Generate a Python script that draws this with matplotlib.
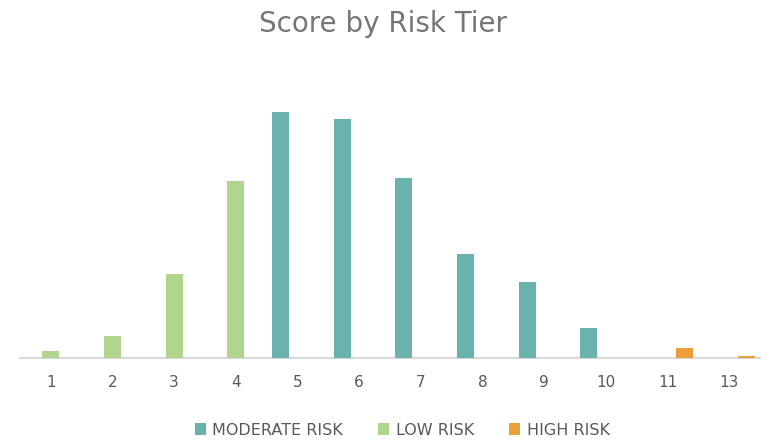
import numpy as np
import matplotlib
matplotlib.use('Agg')
import matplotlib.pyplot as plt

#-- chart data
categories = ['1', '2', '3', '4', '5', '6', '7', '8', '9', '10', '11', '13']
moderate = [0, 0, 0, 0, 246, 239, 180, 104, 76, 30, 0, 0]
low = [7, 22, 84, 177, 0, 0, 0, 0, 0, 0, 0, 0]
high = [0, 0, 0, 0, 0, 0, 0, 0, 0, 0, 10, 2]
series_names = ['MODERATE RISK', 'LOW RISK', 'HIGH RISK']

colors = ['#6AB2AE', '#B0D68E', '#E99F3A']
text_gray = '#595959'

plt.rcParams['font.family'] = ['DejaVu Sans']

fig = plt.figure(figsize=(7.66, 4.40), dpi=100)
ax = fig.add_axes([20/766, 82/440, 740/766, 300/440])

x = np.arange(len(categories))
w = 0.2755
for k, (vals, name) in enumerate(zip([moderate, low, high], series_names)):
    ax.bar(x + (k - 1) * w, vals, width=w, color=colors[k], label=name, zorder=3)

ax.set_xlim(-0.5, len(categories) - 0.5)
ax.set_ylim(0, 300)
ax.set_xticks(x)
ax.set_xticklabels(categories, fontsize=11, color=text_gray)
ax.tick_params(axis='x', length=0, pad=12)
ax.set_yticks([])
for s in ['top', 'right', 'left']:
    ax.spines[s].set_visible(False)
ax.spines['bottom'].set_color('#D9D9D9')
ax.spines['bottom'].set_linewidth(1.5)
ax.spines['bottom'].set_zorder(1)

fig.text(0.5, 1 - 24/440, 'Score by Risk Tier', ha='center', va='center',
         fontsize=20, color='#757575')

leg = fig.legend(loc='center', bbox_to_anchor=(0.525, 1 - 430/440), ncol=3,
                 frameon=False, fontsize=11.5, handlelength=0.7, handleheight=0.7,
                 handletextpad=0.4, columnspacing=2.2)
for t in leg.get_texts():
    t.set_color(text_gray)

fig.savefig('out.png', dpi=100)
